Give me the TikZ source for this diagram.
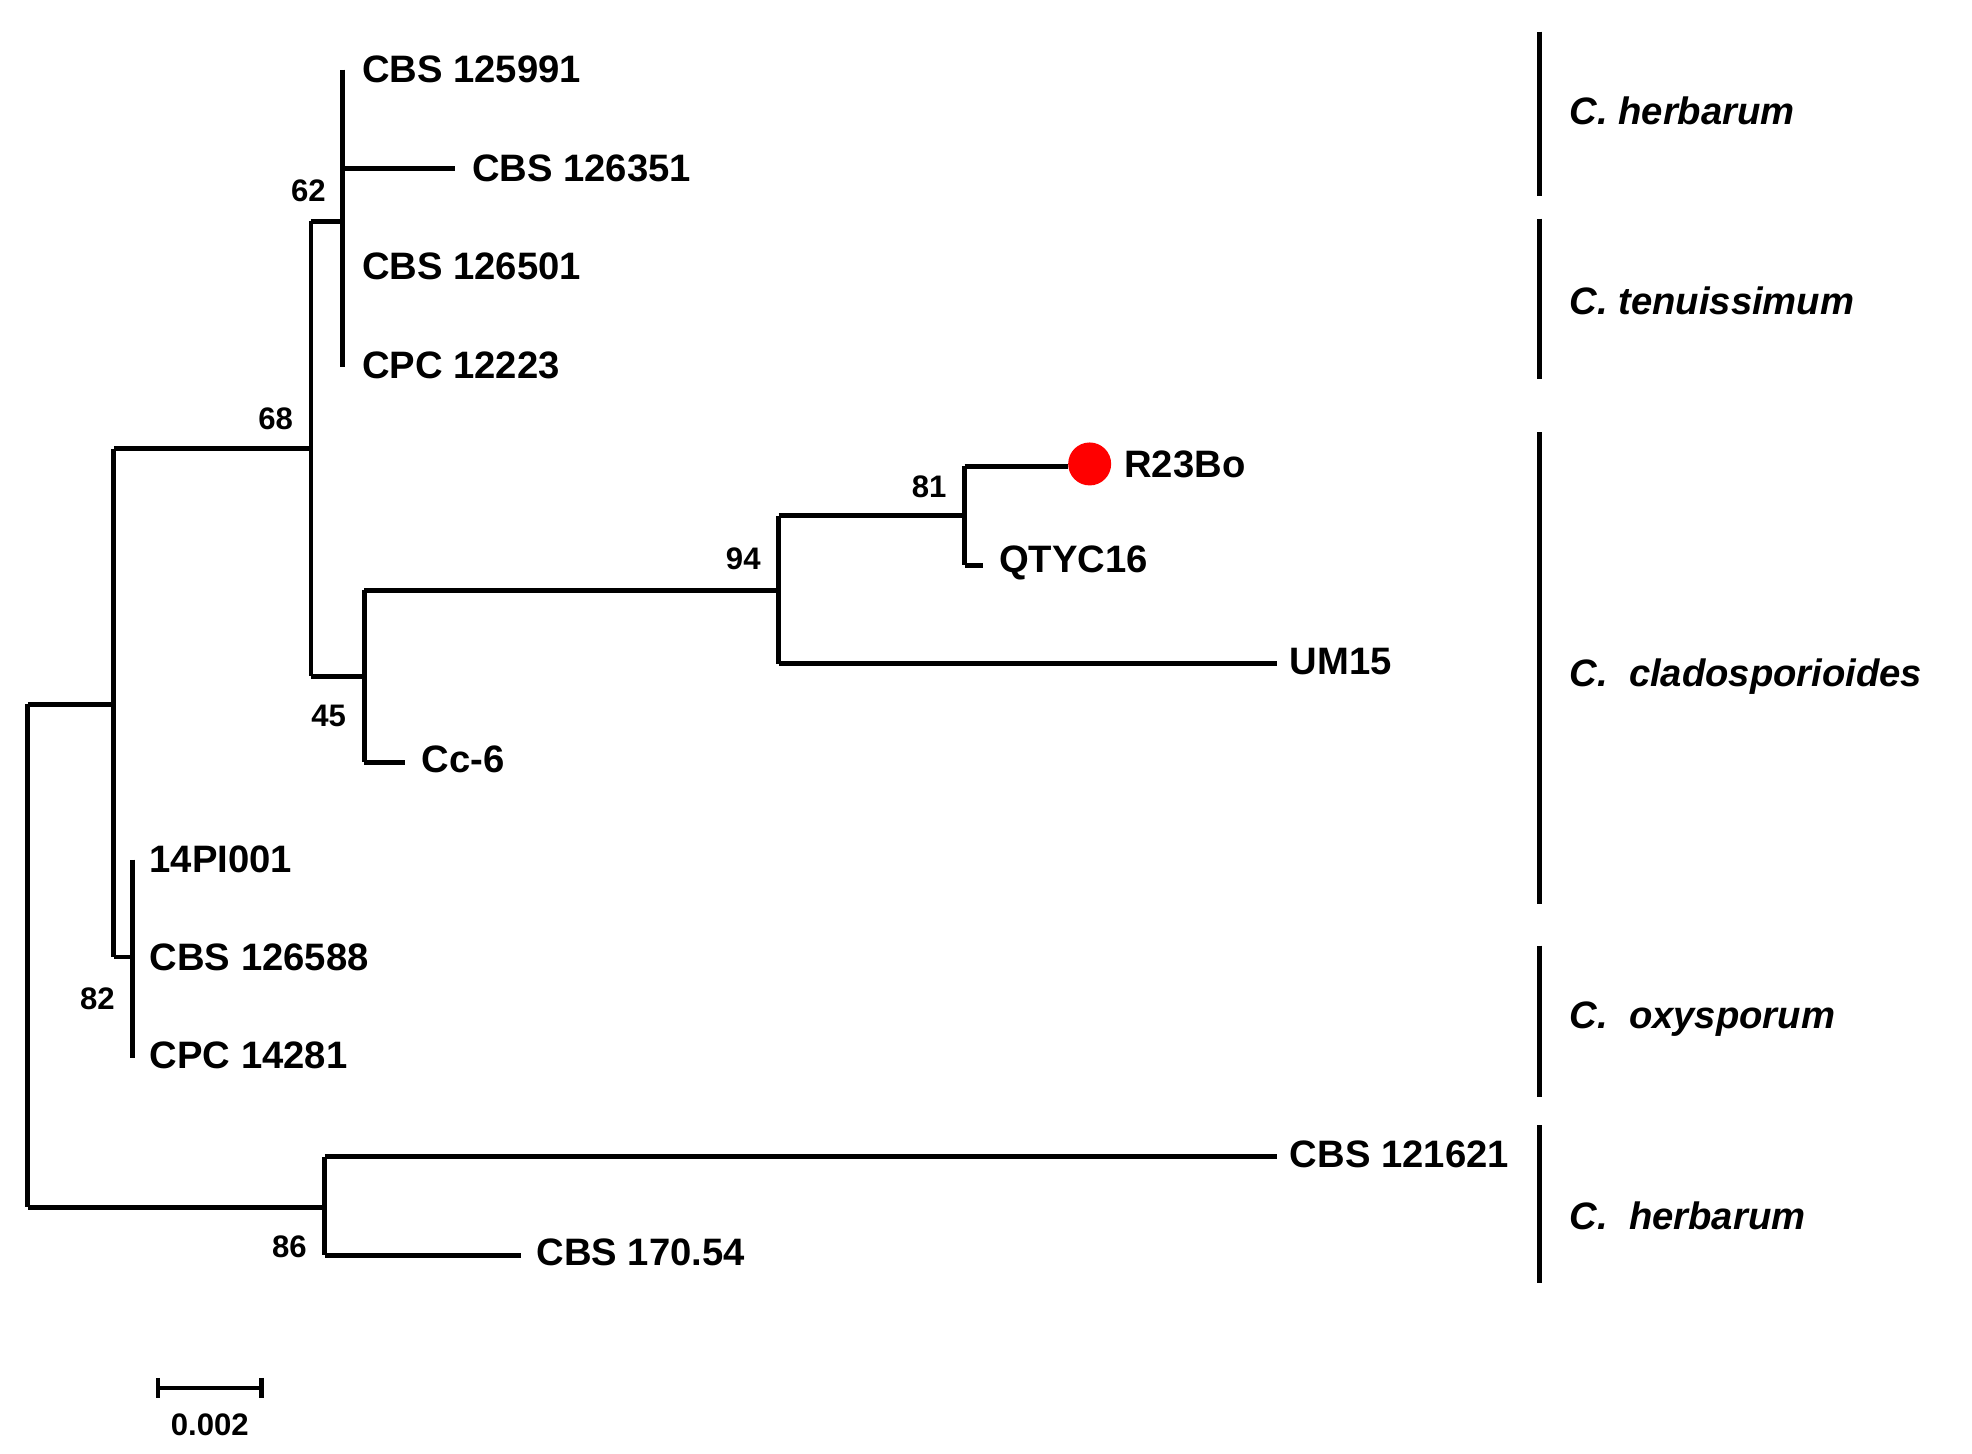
\documentclass[tikz,border=0pt]{standalone}
\usepackage{fontspec}
\setmainfont{Liberation Sans}
\begin{document}
\begin{tikzpicture}[x=0.01cm,y=-0.01cm,line width=1.1pt,
  leaf/.style={anchor=west,font=\fontsize{8.6}{10}\selectfont\bfseries,inner sep=1pt},
  boot/.style={font=\fontsize{7}{8}\selectfont\bfseries,inner sep=1pt},
  clade/.style={anchor=west,font=\fontsize{8.6}{10}\selectfont\bfseries\itshape}]
\useasboundingbox (0,0) rectangle (1560,1150);
% tree
\draw (22,557) -- (22,955);
\draw (22,557) -- (90,557);
\draw (90,355) -- (90,757);
\draw (90,355) -- (246,355) (246,175) -- (246,535);
\draw (246,175) -- (271,175) (271,55) -- (271,290);
\draw (271,133) -- (360,133);
\draw (246,535) -- (288,535) (288,467) -- (288,603);
\draw (288,467) -- (616,467) (616,408) -- (616,525);
\draw (616,408) -- (763,408) (763,369) -- (763,447);
\draw (763,369) -- (845,369);
\draw (763,447) -- (778,447);
\draw (616,525) -- (1010,525);
\draw (288,603) -- (320,603);
\draw (90,757) -- (105,757) (105,680) -- (105,837);
\draw (22,955) -- (257,955) (257,915) -- (257,993);
\draw (257,915) -- (1010,915);
\draw (257,993) -- (412,993);
\fill[red] (862,367) circle (17);
% leaves
\node[leaf] (l1) at (281,55) {CBS 125991};
\node[leaf] (l2) at (368,133) {CBS 126351};
\node[leaf] (l3) at (281,211) {CBS 126501};
\node[leaf] (l4) at (281,289) {CPC 12223};
\node[leaf] (l5) at (884,367) {R23Bo};
\node[leaf] (l6) at (785,445) {QTYC16};
\node[leaf] (l7) at (1015,523) {UM15};
\node[leaf] (l8) at (328,601) {Cc-6};
\node[leaf] (l9) at (113,680) {14PI001};
\node[leaf] (l10) at (113,757) {CBS 126588};
\node[leaf] (l11) at (113,835) {CPC 14281};
\node[leaf] (l12) at (1015,913) {CBS 121621};
\node[leaf] (l13) at (419,991) {CBS 170.54};
% support values
\node[boot] (b62) at (244,151) {62};
\node[boot] (b68) at (218,331) {68};
\node[boot] (b45) at (260,566) {45};
\node[boot] (b94) at (588,442) {94};
\node[boot] (b81) at (735,385) {81};
\node[boot] (b82) at (77,790) {82};
\node[boot] (b86) at (229,986) {86};
% clades
\foreach \a/\b in {25/155,173/300,342/715,748/868,890/1015}
  \draw (1218,\a) -- (1218,\b);
\node[clade] (c1) at (1228,88) {C. herbarum};
\node[clade] (c2) at (1228,238) {C. tenuissimum};
\node[clade] (c3) at (1228,535) {C.\ \ cladosporioides};
\node[clade] (c4) at (1228,806) {C.\ \ oxysporum};
\node[clade] (c5) at (1228,962) {C.\ \ herbarum};
% scale bar
\draw (125,1098) -- (207,1098);
\draw (125,1090) -- (125,1106) (207,1090) -- (207,1106);
\node[boot] (sc) at (166,1127) {0.002};
\end{tikzpicture}
\end{document}
